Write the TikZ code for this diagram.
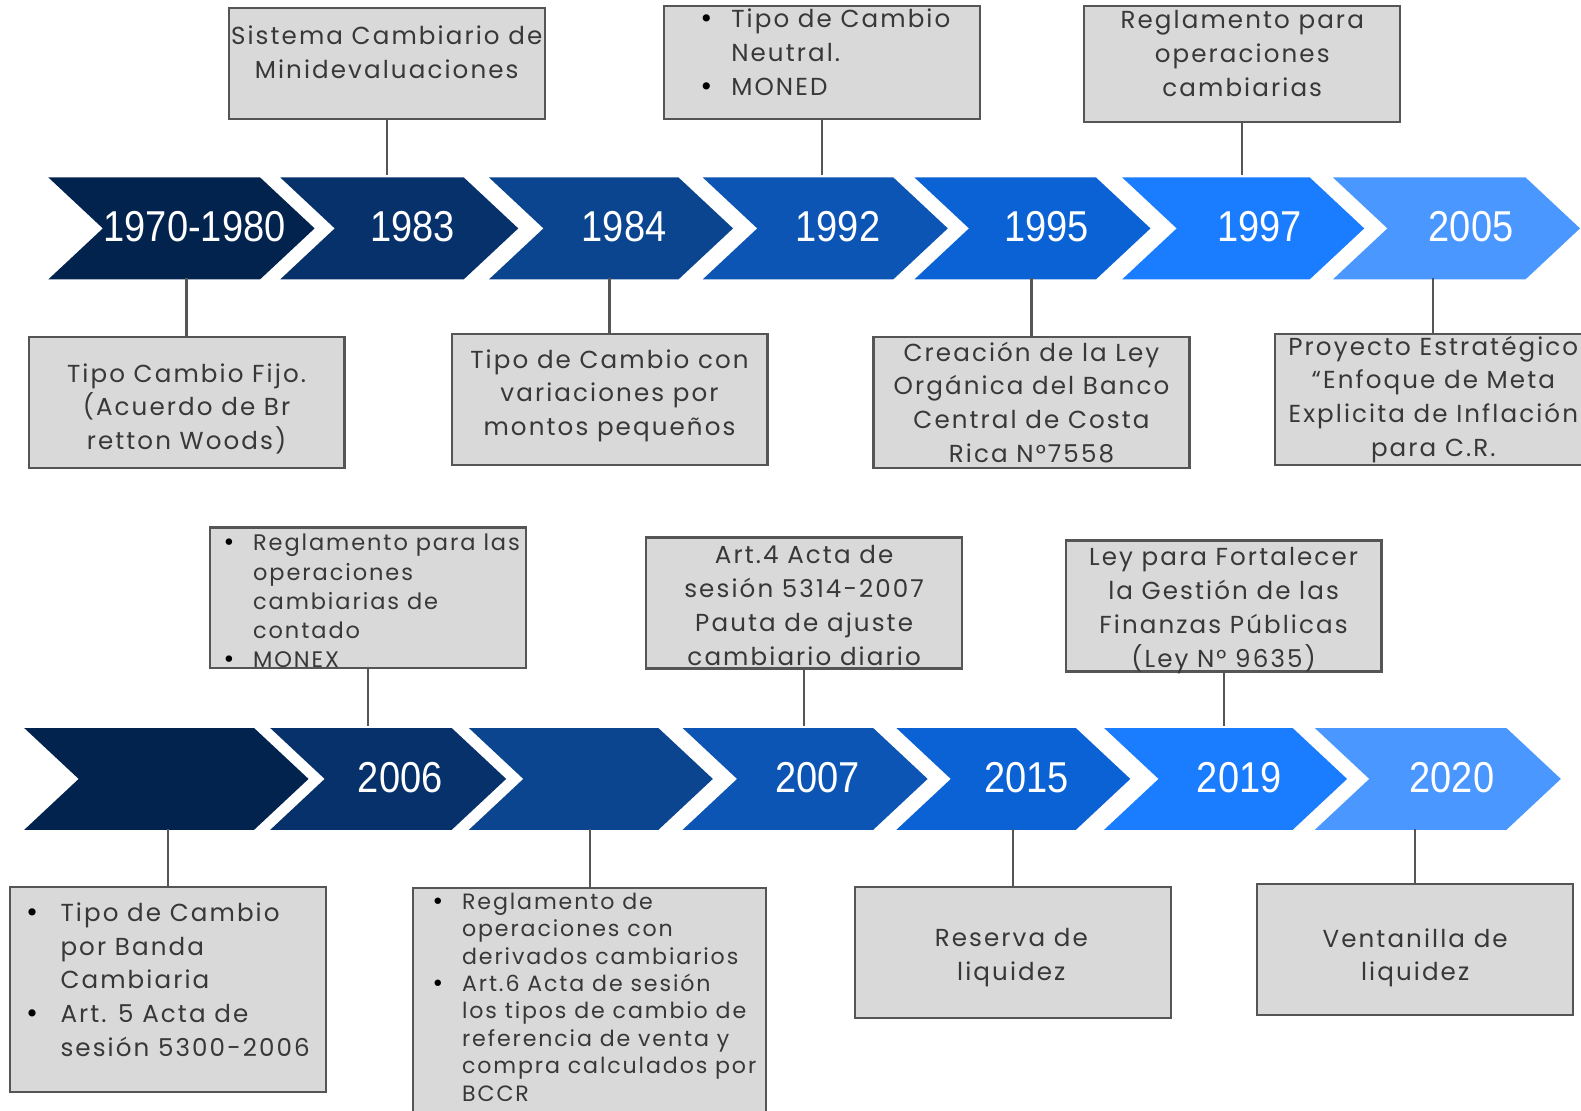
\documentclass[tikz,border=0pt]{standalone}
\usepackage{fontspec}
\setmainfont{Poppins}[LetterSpace=8.5]
\newfontfamily\yearfont{Liberation Sans}[FakeStretch=0.88]
\newfontfamily\bulletfont{DejaVu Sans}
\usetikzlibrary{positioning}

\definecolor{chevA}{HTML}{03234F}
\definecolor{chevB}{HTML}{07316B}
\definecolor{chevC}{HTML}{0B4590}
\definecolor{chevD}{HTML}{0C55B4}
\definecolor{chevE}{HTML}{0A62D4}
\definecolor{chevF}{HTML}{1A7CFF}
\definecolor{chevG}{HTML}{4A97FF}
\definecolor{boxfill}{HTML}{D9D9D9}
\definecolor{boxline}{HTML}{555555}
\definecolor{boxtext}{HTML}{383838}

% chevron: left x, right x, middle y, colour
\newcommand{\chevron}[4]{%
  \fill[#4] (#1,#3-50.5) -- (#2,#3-50.5) -- (#2+54,#3) -- (#2,#3+50.5) -- (#1,#3+50.5) -- (#1+54,#3) -- cycle;}
\newcommand{\dotmark}{{\bulletfont\color{black}\textbullet}}
\newcommand{\boxfont}{\fontsize{7}{9.6}\selectfont}
\newcommand{\monexfont}{\fontsize{6.4}{8.3}\selectfont}
\newcommand{\bccrfont}{\fontsize{6.3}{7.8}\selectfont}

\begin{document}
\begin{tikzpicture}[x=0.010083cm, y=-0.010083cm,
    year/.style={minimum height=1.018cm, inner sep=0pt, text=white, font=\yearfont\fontsize{12.3}{12.5}\selectfont},
    infobox/.style={draw=boxline, fill=boxfill, line width=0.6pt, minimum width=3.16cm, minimum height=1.31cm, inner sep=0pt},
    boxtxt/.style={inner sep=0pt, align=center, text=boxtext, font=\boxfont},
    link/.style={draw=boxline, line width=0.6pt}]
	\useasboundingbox (0,0) rectangle (1568,1101);
	\clip (0,0) rectangle (1568,1101);

	% first row
	\chevron{48}{258}{226.5}{chevA}
	\chevron{278}{460}{226.5}{chevB}
	\chevron{485}{673}{226.5}{chevC}
	\chevron{697}{886}{226.5}{chevD}
	\chevron{907}{1087}{226.5}{chevE}
	\chevron{1113}{1299}{226.5}{chevF}
	\chevron{1322}{1513}{226.5}{chevG}
	\node [year] (y1) at (193,225) {1970-1980};
	\node [year] (y2) at (409,225) {1983};
	\node [year] (y3) at (619,225) {1984};
	\node [year] (y4) at (831,225) {1992};
	\node [year] (y5) at (1038,225) {1995};
	\node [year] (y6) at (1249,225) {1997};
	\node [year] (y7) at (1459,225) {2005};

	% second row
	\chevron{24}{252}{772.5}{chevA}
	\chevron{268}{448}{772.5}{chevB}
	\chevron{465}{653}{772.5}{chevC}
	\chevron{677}{866}{772.5}{chevD}
	\chevron{889}{1067}{772.5}{chevE}
	\chevron{1095}{1282}{772.5}{chevF}
	\chevron{1304}{1494}{772.5}{chevG}
	\node [year] (y8) at (166,771) {};
	\node [year] (y9) at (397,771) {2006};
	\node [year] (y10) at (585,771) {};
	\node [year] (y11) at (811,771) {2007};
	\node [year] (y12) at (1018,771) {2015};
	\node [year] (y13) at (1229,771) {2019};
	\node [year] (y14) at (1440,771) {2020};

	% boxes above and below the first row
	\node [infobox, minimum height=1.11cm] (b1) at (383.5,63) {};
	\node [infobox, minimum height=1.13cm] (b2) at (815.5,62) {};
	\node [infobox, minimum height=1.16cm] (b3) at (1232,63.5) {};
	\node [infobox] (b4) at (185,399.5) {};
	\node [infobox] (b5) at (604.5,396) {};
	\node [infobox] (b6) at (1023,399.5) {};
	\node [infobox] (b7) at (1421.5,396) {};
	\node [boxtxt] (t1) at (383.5,52) {Sistema Cambiario de\\Minidevaluaciones};
	\node [boxtxt] (t2) at (818,54.5) {\begin{tabular}{@{}l@{\hspace{5pt}}l@{}}
		\dotmark & Tipo de Cambio\\ & Neutral.\\ \dotmark & MONED\end{tabular}};
	\node [boxtxt] (t3) at (1232,53) {Reglamento para\\operaciones\\cambiarias};
	\node [boxtxt] (t4) at (185,405.5) {Tipo Cambio Fijo.\\(Acuerdo de Br\\retton Woods)};
	\node [boxtxt] (t5) at (604.5,392.5) {Tipo de Cambio con\\variaciones por\\montos pequeños};
	\node [boxtxt] (t6) at (1023,399) {Creación de la Ley\\Orgánica del Banco\\Central de Costa\\Rica N°7558};
	\node [boxtxt] (t7) at (1421.5,396) {Proyecto Estratégico\\“Enfoque de Meta\\Explicita de Inflación\\para C.R.};
	\draw [link] (b1.south) -- (b1.south |- y2.north);
	\draw [link] (b2.south) -- (b2.south |- y4.north);
	\draw [link] (b3.south) -- (b3.south |- y6.north);
	\draw [link] (b4.north) -- (b4.north |- y1.south);
	\draw [link] (b5.north) -- (b5.north |- y3.south);
	\draw [link] (b6.north) -- (b6.north |- y5.south);
	\draw [link] (b7.north) -- (b7.north |- y7.south);

	% boxes above and below the second row
	\node [infobox, minimum height=1.41cm] (b8) at (365,593) {};
	\node [infobox] (b9) at (797.5,598) {};
	\node [infobox] (b10) at (1213.5,601) {};
	\node [infobox, minimum height=2.05cm] (b11) at (167,981.5) {};
	\node [infobox, minimum width=3.53cm, minimum height=2.3cm] (b12) at (585,995) {};
	\node [infobox] (b13) at (1005,945) {};
	\node [infobox] (b14) at (1403.5,942) {};
	\node [boxtxt, font=\monexfont] (t8) at (368,598.5) {\begin{tabular}{@{}l@{\hspace{5pt}}l@{}}
		\dotmark & Reglamento para las\\ & operaciones\\ & cambiarias de\\ & contado\\ \dotmark & MONEX\end{tabular}};
	\node [boxtxt] (t9) at (797.5,600.5) {Art.4 Acta de\\sesión 5314-2007\\Pauta de ajuste\\cambiario diario};
	\node [boxtxt] (t10) at (1213.5,605.5) {Ley para Fortalecer\\la Gestión de las\\Finanzas Públicas\\(Ley N° 9635)};
	\node [boxtxt] (t11) at (166,974) {\begin{tabular}{@{}l@{\hspace{6pt}}l@{}}
		\dotmark & Tipo de Cambio\\ & por Banda\\ & Cambiaria\\ \dotmark & Art. 5 Acta de\\ & sesión 5300-2006\end{tabular}};
	\node [boxtxt, font=\bccrfont] (t12) at (589,991.5) {\begin{tabular}{@{}l@{\hspace{5pt}}l@{}}
		\dotmark & Reglamento de\\ & operaciones con\\ & derivados cambiarios\\ \dotmark & Art.6 Acta de sesión\\ & los tipos de cambio de\\ & referencia de venta y\\ & compra calculados por\\ & BCCR\end{tabular}};
	\node [boxtxt] (t13) at (1003,950) {Reserva de\\liquidez};
	\node [boxtxt] (t14) at (1403.5,950) {Ventanilla de\\liquidez};
	\draw [link] (b8.south) -- (b8.south |- y9.north);
	\draw [link] (b9.south) -- (b9.south |- y11.north);
	\draw [link] (b10.south) -- (b10.south |- y13.north);
	\draw [link] (b11.north) -- (b11.north |- y8.south);
	\draw [link] (b12.north) -- (b12.north |- y10.south);
	\draw [link] (b13.north) -- (b13.north |- y12.south);
	\draw [link] (b14.north) -- (b14.north |- y14.south);
\end{tikzpicture}
\end{document}
